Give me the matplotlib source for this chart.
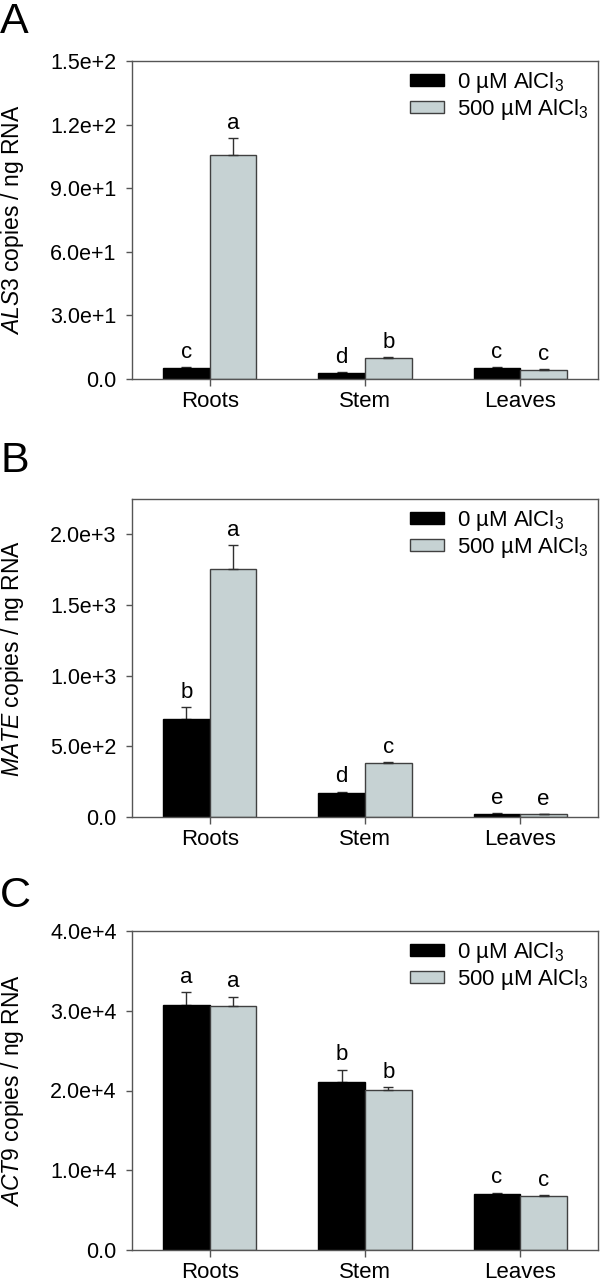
import numpy as np
import matplotlib
matplotlib.use("Agg")
import matplotlib.pyplot as plt
from matplotlib.ticker import FuncFormatter

plt.rcParams['font.family'] = ['Liberation Sans', 'DejaVu Sans']
plt.rcParams['mathtext.fontset'] = 'custom'
plt.rcParams['mathtext.rm'] = 'Liberation Sans'
plt.rcParams['mathtext.it'] = 'Liberation Sans:italic'

# data
tissues = ['Roots', 'Stem', 'Leaves']
series_names = [r'0 µM AlCl$_3$', r'500 µM AlCl$_3$']

als3_ctrl = [5.0, 3.0, 5.0]
als3_ctrl_err = [0.5, 0.2, 0.5]
als3_al = [105.5, 9.7, 4.2]
als3_al_err = [8.0, 0.5, 0.3]
als3_letters = [['c', 'd', 'c'], ['a', 'b', 'c']]

mate_ctrl = [695, 170, 23]
mate_ctrl_err = [82, 8, 2]
mate_al = [1753, 382, 19]
mate_al_err = [170, 5, 2]
mate_letters = [['b', 'd', 'e'], ['a', 'c', 'e']]

act9_ctrl = [30750, 21100, 7060]
act9_ctrl_err = [1600, 1500, 100]
act9_al = [30650, 20100, 6810]
act9_al_err = [1100, 340, 50]
act9_letters = [['a', 'b', 'c'], ['a', 'b', 'c']]

panels = [
    ('A', 'ALS3', als3_ctrl, als3_ctrl_err, als3_al, als3_al_err, als3_letters, 150, [0, 30, 60, 90, 120, 150]),
    ('B', 'MATE', mate_ctrl, mate_ctrl_err, mate_al, mate_al_err, mate_letters, 2250, [0, 500, 1000, 1500, 2000]),
    ('C', 'ACT9', act9_ctrl, act9_ctrl_err, act9_al, act9_al_err, act9_letters, 40000, [0, 10000, 20000, 30000, 40000]),
]

ctrl_color = 'black'
al_color = '#c6d2d3'
edge_color = '#404040'
spine_color = '#555555'


def sci_fmt(v, pos):
    if v == 0:
        return '0.0'
    exp = int(np.floor(np.log10(abs(v))))
    mant = v / 10 ** exp
    return f'{mant:.1f}e+{exp}'


W, H = 600, 1284
fig = plt.figure(figsize=(W / 100, H / 100), dpi=100)

# axes pixel boxes (top, bottom) and panel label tops
ax_boxes = [(61, 379), (499, 817), (931, 1250)]
label_tops = [2, 441, 876]
left_px, right_px = 132, 598

x = np.arange(len(tissues))
w = 0.3

for (tag, gene, c, ce, a, ae, letters, ymax, yticks), (top, bot), lt in zip(panels, ax_boxes, label_tops):
    ax = fig.add_axes([left_px / W, 1 - bot / H, (right_px - left_px) / W, (bot - top) / H])
    ax.bar(x - w / 2, c, w, color=ctrl_color, edgecolor='black', linewidth=1, label=series_names[0], zorder=2)
    ax.bar(x + w / 2, a, w, color=al_color, edgecolor=edge_color, linewidth=1, label=series_names[1], zorder=2)
    ax.errorbar(x - w / 2, c, yerr=[np.zeros(len(c)), ce], fmt='none', ecolor='#303030',
                elinewidth=1, capsize=3.3, capthick=1, zorder=1)
    ax.errorbar(x + w / 2, a, yerr=[np.zeros(len(a)), ae], fmt='none', ecolor='#303030',
                elinewidth=1, capsize=3.3, capthick=1, zorder=3)

    off = ymax * 0.014
    for i in range(len(tissues)):
        ax.text(x[i] - w / 2, c[i] + ce[i] + off, letters[0][i], ha='center', va='bottom', fontsize=16)
        ax.text(x[i] + w / 2, a[i] + ae[i] + off, letters[1][i], ha='center', va='bottom', fontsize=16)

    ax.set_xlim(-0.5, 2.5)
    ax.set_ylim(0, ymax)
    ax.set_yticks(yticks)
    ax.yaxis.set_major_formatter(FuncFormatter(sci_fmt))
    ax.set_xticks(x)
    ax.set_xticklabels(tissues)
    ax.tick_params(axis='y', direction='out', length=4, width=1, color=spine_color, labelsize=15.5, pad=7)
    ax.tick_params(axis='x', direction='out', length=5, width=1, color=spine_color, labelsize=16, pad=3.5)
    for s in ax.spines.values():
        s.set_color(spine_color)
        s.set_linewidth(1)

    ax.set_ylabel(r'$\it{' + gene + '}$ copies / ng RNA', fontsize=16.5)
    ax.yaxis.set_label_coords(-0.228, 0.5)

    ax.legend(loc='upper right', frameon=False, fontsize=16, handlelength=1.55, handleheight=0.45,
              handletextpad=0.6, labelspacing=0.1, borderaxespad=0.15, borderpad=0.25)

    fig.text(0.0, 1 - lt / H, tag, fontsize=31, ha='left', va='top')

fig.savefig('out.png', dpi=100)
